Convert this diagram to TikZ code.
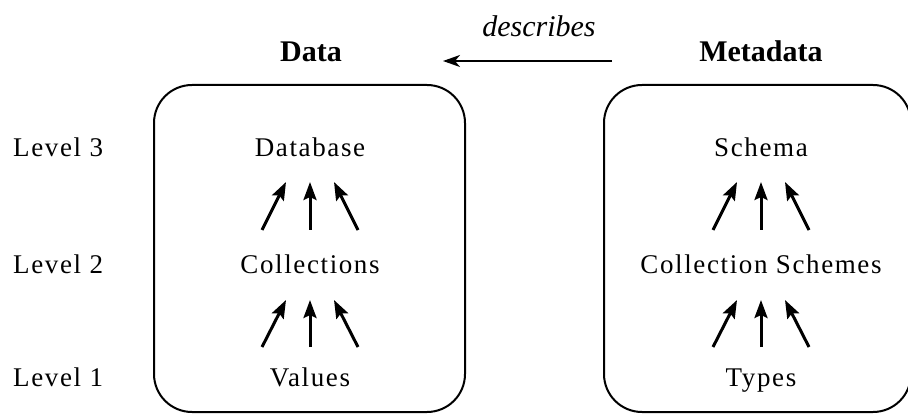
\documentclass[tikz,border=0pt]{standalone}
\usepackage{fontspec}
\setmainfont{Liberation Serif}
\newfontfamily\bodyfont{Liberation Serif}[LetterSpace=6]
\usetikzlibrary{arrows.meta}
\tikzset{
  lbl/.style={inner sep=0pt, anchor=base, font=\bodyfont\fontsize{27}{32}\selectfont},
  lvl/.style={lbl, anchor=base west},
  title/.style={inner sep=0pt, anchor=base, font=\bfseries\fontsize{30}{36}\selectfont},
  verb/.style={inner sep=0pt, anchor=base, font=\itshape\fontsize{30}{36}\selectfont},
  frame/.style={draw, line width=2pt, rounded corners=38pt},
  up/.style={line width=3pt, -{Stealth[length=18pt,width=13pt,inset=3pt]}},
  rel/.style={line width=1.6pt, -{Stealth[length=17pt,width=12pt,inset=5pt]}}
}
\begin{document}
\begin{tikzpicture}[x=1pt, y=-1pt]
\useasboundingbox (0,0) rectangle (908,414);

% column frames (the right one runs off the page edge)
\begin{scope}
  \clip (0,0) rectangle (908,414);
  \draw[frame] (154,85) rectangle (465,412);
  \draw[frame] (604,85) rectangle (911,412);
\end{scope}

% headings and the relation between them
\node[title] (data) at (311,62) {Data};
\node[title] (meta) at (761,62) {Metadata};
\node[verb] (desc) at (539,37) {describes};
\coordinate (dfrom) at (612,61);
\coordinate (dto) at (443,61);
\draw[rel] (dfrom) -- (dto);

% level captions
\node[lvl] (l3) at (13,157) {Level 3};
\node[lvl] (l2) at (13,274) {Level 2};
\node[lvl] (l1) at (13,386) {Level 1};

% data column
\node[lbl] (db)   at (310,157) {Database};
\node[lbl] (coll) at (310,274) {Collections};
\node[lbl] (vals) at (310,386) {Values};

% metadata column
\node[lbl] (sch)  at (761,157) {Schema};
\node[lbl] (cs)   at (761,274) {Collection Schemes};
\node[lbl] (typ)  at (761,386) {Types};

% arrow end points, data column
\foreach \n/\x/\hx in {a/262/286, b/310/310, c/358/334} {
  \coordinate (du\n t) at (\x,230);
  \coordinate (du\n h) at (\hx,182);
  \coordinate (dl\n t) at (\x,347);
  \coordinate (dl\n h) at (\hx,300);
}
% arrow end points, metadata column
\foreach \n/\x/\hx in {a/713/737, b/761/761, c/809/785} {
  \coordinate (mu\n t) at (\x,230);
  \coordinate (mu\n h) at (\hx,182);
  \coordinate (ml\n t) at (\x,347);
  \coordinate (ml\n h) at (\hx,300);
}
\foreach \n in {a,b,c} {
  \draw[up] (du\n t) -- (du\n h);
  \draw[up] (dl\n t) -- (dl\n h);
  \draw[up] (mu\n t) -- (mu\n h);
  \draw[up] (ml\n t) -- (ml\n h);
}
\end{tikzpicture}
\end{document}
